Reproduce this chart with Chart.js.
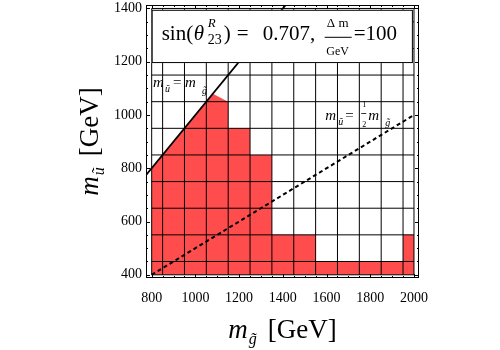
<!DOCTYPE html>
<html>
<head>
<meta charset="utf-8">
<script src="https://cdn.jsdelivr.net/npm/chart.js@4.4.0/dist/chart.umd.min.js"></script>
<style>
  html, body { margin: 0; padding: 0; background: #fff; }
  #wrap { width: 500px; height: 350px; }
</style>
</head>
<body>
<div id="wrap"><canvas id="c"></canvas></div>
<script>
// gluino mass (x) vs up-squark mass (y), both in GeV
const xTicks = [800, 1000, 1200, 1400, 1600, 1800, 2000];
const yTicks = [400, 600, 800, 1000, 1200, 1400];

// edges of the scan cells (black mesh)
const cellEdgesX = [800, 850, 950, 1050, 1150, 1250, 1350, 1450, 1550, 1650, 1750, 1850, 1950, 2000];
const cellEdgesY = [400, 450, 550, 650, 750, 850, 950, 1050, 1150, 1250, 1350, 1400];

// upper edge of the excluded (red) region, filled down to 400
const exclX = [800, 1080, 1150, 1150, 1250, 1250, 1350, 1350, 1550, 1550, 1950, 1950, 2000];
const exclY = [800, 1080, 1050, 950, 950, 850, 850, 550, 550, 450, 450, 550, 550];

// m_u = m_g  and  m_u = m_g / 2
const diagX = [700, 1500];
const diagY = [700, 1500];
const halfX = [800, 2000];
const halfY = [400, 1000];

const SERIF = '"Liberation Serif", "DejaVu Serif", serif';
const RED = '#ff4d4d';

const pts = (xs, ys) => xs.map((x, i) => ({ x: x, y: ys[i] }));

const datasets = [];
datasets.push({
    data: pts(diagX, diagY),
    borderColor: '#000',
    borderWidth: 1.8,
    order: 0
});
datasets.push({
    data: pts(halfX, halfY),
    borderColor: '#000',
    borderWidth: 2,
    borderDash: [4, 3],
    order: 0
});
cellEdgesX.forEach(v => {
    datasets.push({
        data: [{ x: v, y: 400 }, { x: v, y: 1400 }],
        borderColor: '#000',
        borderWidth: 1,
        order: 1
    });
});
cellEdgesY.forEach(v => {
    datasets.push({
        data: [{ x: 800, y: v }, { x: 2000, y: v }],
        borderColor: '#000',
        borderWidth: 1,
        order: 1
    });
});
datasets.push({
    data: pts(exclX, exclY),
    borderWidth: 0,
    borderColor: RED,
    backgroundColor: RED,
    fill: { value: 400 },
    order: 2
});

// draws a run of text pieces: [text, font, gapBefore, baselineShift]
function drawRuns(ctx, parts, x0, y0, measureOnly) {
    let x = x0;
    parts.forEach(p => {
        ctx.font = p[1];
        x += p[2] || 0;
        if (!measureOnly) ctx.fillText(p[0], x, y0 + (p[3] || 0));
        x += ctx.measureText(p[0]).width;
    });
    return x - x0;
}

function drawCentered(ctx, parts, cx, y0) {
    const w = drawRuns(ctx, parts, 0, 0, true);
    drawRuns(ctx, parts, cx - w / 2, y0);
}

function minorsOf(ticks) {
    const out = [];
    for (let i = 0; i < ticks.length - 1; i++) {
        const step = (ticks[i + 1] - ticks[i]) / 4;
        for (let k = 1; k < 4; k++) out.push(ticks[i] + k * step);
    }
    return out;
}

const decor = {
    id: 'decor',
    afterDraw(chart) {
        const { ctx, chartArea: a } = chart;
        const x = chart.scales.x, y = chart.scales.y;
        ctx.save();
        ctx.fillStyle = '#000';
        ctx.strokeStyle = '#000';
        ctx.lineWidth = 1;

        // outer frame with inward ticks on all sides
        ctx.strokeRect(a.left + 0.5, a.top + 0.5, a.right - a.left - 1, a.bottom - a.top - 1);
        const tickX = (v, len) => {
            const px = Math.round(x.getPixelForValue(v)) + 0.5;
            ctx.beginPath();
            ctx.moveTo(px, a.bottom); ctx.lineTo(px, a.bottom - len);
            ctx.moveTo(px, a.top); ctx.lineTo(px, a.top + len);
            ctx.stroke();
        };
        const tickY = (v, len) => {
            const py = Math.round(y.getPixelForValue(v)) + 0.5;
            ctx.beginPath();
            ctx.moveTo(a.left, py); ctx.lineTo(a.left + len, py);
            ctx.moveTo(a.right, py); ctx.lineTo(a.right - len, py);
            ctx.stroke();
        };
        xTicks.forEach(v => tickX(v, 4));
        minorsOf(xTicks).forEach(v => tickX(v, 2));
        yTicks.forEach(v => tickY(v, 4));
        minorsOf(yTicks).forEach(v => tickY(v, 2));

        // parameter box
        const bl = x.getPixelForValue(800), br = x.getPixelForValue(1995);
        const bt = y.getPixelForValue(1395), bb = y.getPixelForValue(1195);
        ctx.fillStyle = '#fff';
        ctx.fillRect(bl, bt, br - bl, bb - bt);
        ctx.strokeRect(bl + 0.5, bt + 0.5, br - bl - 1, bb - bt - 1);
        ctx.fillStyle = '#000';
        ctx.textBaseline = 'alphabetic';
        ctx.textAlign = 'left';
        const big = '21px ' + SERIF;
        ctx.font = big;
        ctx.fillText('sin(', bl + 10, bt + 30);
        ctx.font = 'italic 21px ' + SERIF;
        ctx.fillText('θ', bl + 42, bt + 30);
        ctx.font = 'italic 13px ' + SERIF;
        ctx.fillText('R', bl + 56, bt + 17);
        ctx.font = '14px ' + SERIF;
        ctx.fillText('23', bl + 56, bt + 34);
        ctx.font = big;
        ctx.fillText(')', bl + 72, bt + 30);
        ctx.fillText('=', bl + 85, bt + 30);
        ctx.fillText('0.707,', bl + 111, bt + 30);
        ctx.textAlign = 'center';
        ctx.font = '13px ' + SERIF;
        ctx.fillText('Δ m', bl + 186, bt + 17);
        ctx.font = '12px ' + SERIF;
        ctx.fillText('GeV', bl + 186, bt + 45);
        ctx.fillRect(bl + 173, bt + 27, 27, 1);
        ctx.textAlign = 'left';
        ctx.font = big;
        ctx.fillText('=100', bl + 202, bt + 30);

        // line labels
        const it = 'italic 15px ' + SERIF, sub = 'italic 10px ' + SERIF, up = '15px ' + SERIF;
        let px = x.getPixelForValue(806), py = y.getPixelForValue(1105);
        ctx.font = it; ctx.fillText('m', px, py);
        ctx.font = sub; ctx.fillText('ũ', px + 12, py + 5);
        ctx.font = up; ctx.fillText('=', px + 20, py);
        ctx.font = it; ctx.fillText('m', px + 32, py);
        ctx.font = sub; ctx.fillText('g̃', px + 49, py + 7);

        px = x.getPixelForValue(1594); py = y.getPixelForValue(981);
        ctx.font = it; ctx.fillText('m', px, py);
        ctx.font = sub; ctx.fillText('ũ', px + 13, py + 5);
        ctx.font = up; ctx.fillText('=', px + 20, py);
        ctx.font = '8px ' + SERIF;
        ctx.fillText('1', px + 37, py - 13);
        ctx.fillText('2', px + 37, py + 7);
        ctx.fillRect(px + 36, py - 7, 5, 0.8);
        ctx.font = it; ctx.fillText('m', px + 43, py);
        ctx.font = sub; ctx.fillText('g̃', px + 60, py + 6);

        // axis titles
        const tIt = 'italic 27px ' + SERIF, tSub = 'italic 16px ' + SERIF, tUp = '27px ' + SERIF;
        drawCentered(ctx, [['m', tIt], ['g̃', tSub, 1, 6], ['[GeV]', tUp, 11]], (a.left + a.right) / 2, 338);
        ctx.translate(98, (a.top + a.bottom) / 2);
        ctx.rotate(-Math.PI / 2);
        drawCentered(ctx, [['m', tIt], ['ũ', tSub, 1, 6], ['[GeV]', tUp, 11]], 0, 0);
        ctx.restore();
    }
};

new Chart(document.getElementById('c'), {
    type: 'line',
    data: { datasets: datasets },
    options: {
        responsive: true,
        maintainAspectRatio: false,
        animation: false,
        layout: { padding: { top: 5, right: 81, left: 0, bottom: 0 } },
        elements: { point: { radius: 0 }, line: { tension: 0 } },
        plugins: {
            legend: { display: false },
            tooltip: { enabled: false }
        },
        scales: {
            x: {
                type: 'linear',
                min: 774,
                max: 2023,
                grid: { display: false, drawTicks: false },
                border: { display: false },
                ticks: {
                    color: '#000',
                    font: { family: SERIF, size: 14 },
                    padding: 12,
                    maxRotation: 0,
                    autoSkip: false,
                    callback: v => String(v)
                },
                afterBuildTicks: s => { s.ticks = xTicks.map(v => ({ value: v })); },
                afterFit: s => { s.height = 72; s.paddingLeft = 0; s.paddingRight = 0; }
            },
            y: {
                type: 'linear',
                min: 388,
                max: 1413,
                grid: { display: false, drawTicks: false },
                border: { display: false },
                ticks: {
                    color: '#000',
                    font: { family: SERIF, size: 14 },
                    padding: 4,
                    autoSkip: false,
                    callback: v => String(v)
                },
                afterBuildTicks: s => { s.ticks = yTicks.map(v => ({ value: v })); },
                afterFit: s => { s.width = 146; s.paddingTop = 0; s.paddingBottom = 0; }
            }
        }
    },
    plugins: [decor]
});
</script>
</body>
</html>
